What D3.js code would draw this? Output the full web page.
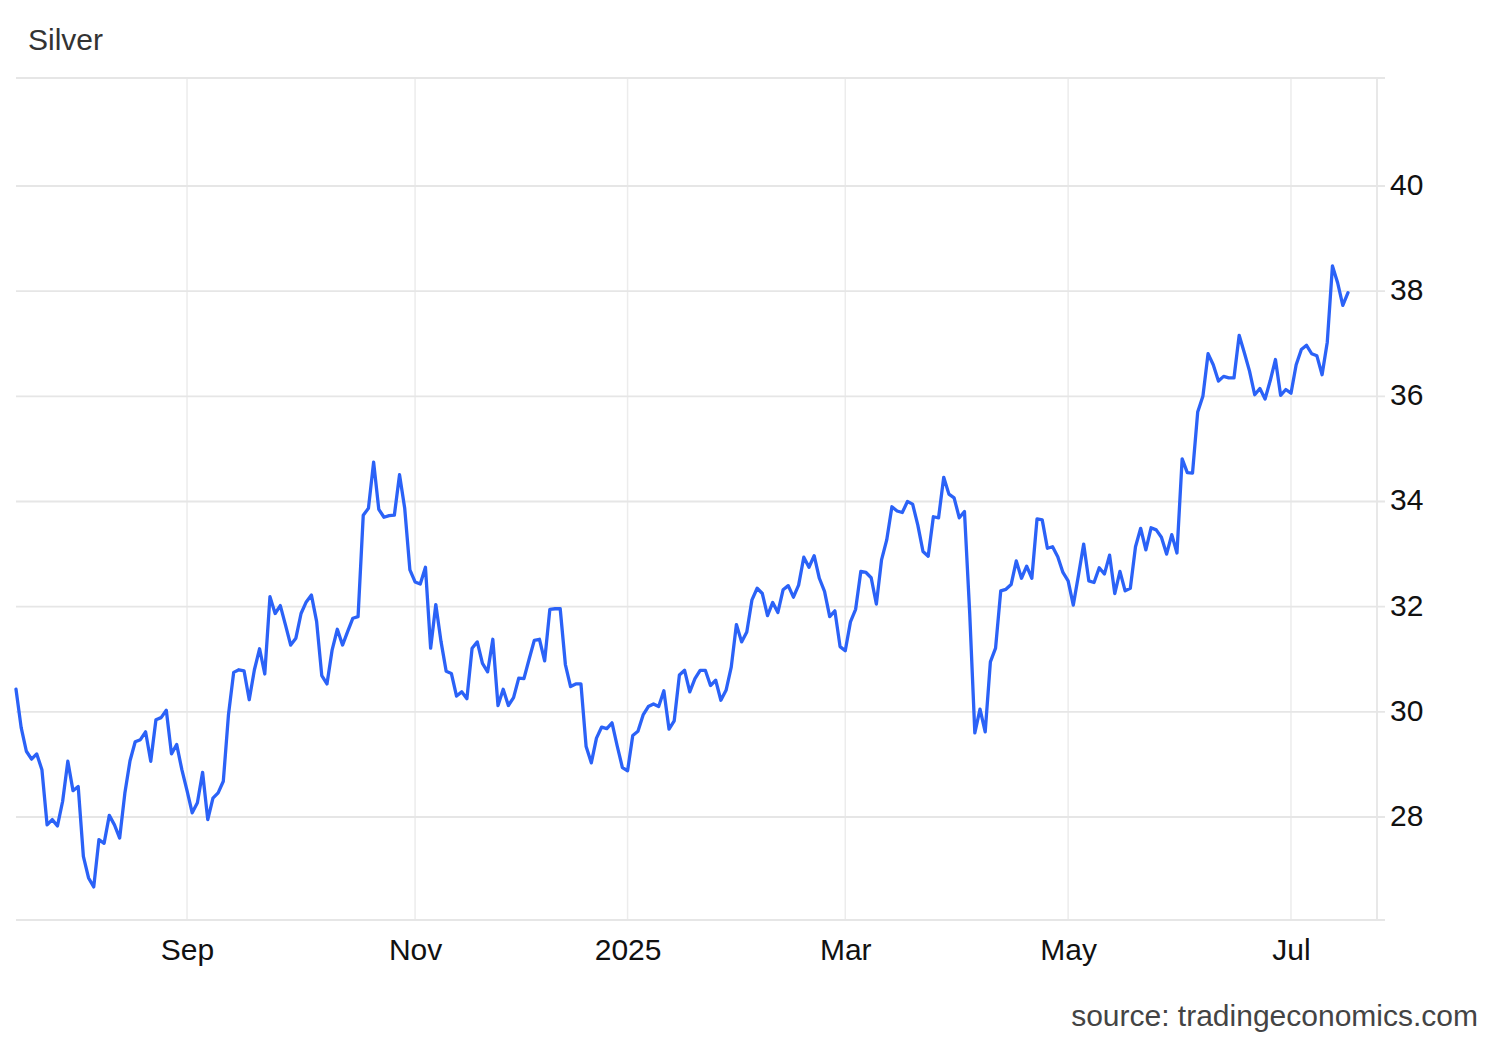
<!DOCTYPE html>
<html><head><meta charset="utf-8">
<script src="https://cdn.jsdelivr.net/npm/d3@7/dist/d3.min.js"></script>
<style>body{margin:0;background:#fff}text{font-family:"Liberation Sans",Arial,sans-serif}</style>
</head><body><svg id="c" width="1500" height="1040"></svg>
<script>
const title = "Silver";
const sourceText = "source: tradingeconomics.com";
const startDate = "2024-07-17";
const holidays = ["2024-11-28", "2024-12-25", "2025-01-01"];
const prices = [
30.43,29.7,29.25,29.1,29.2,28.9,27.85,27.95,27.83,28.3,
29.06,28.5,28.58,27.25,26.84,26.67,27.57,27.5,28.03,27.85,
27.6,28.45,29.07,29.43,29.47,29.62,29.06,29.85,29.89,30.03,
29.2,29.38,28.9,28.5,28.08,28.27,28.85,27.95,28.36,28.46,
28.68,29.95,30.75,30.8,30.78,30.23,30.8,31.2,30.72,32.19,
31.87,32.02,31.65,31.27,31.4,31.87,32.09,32.22,31.72,30.69,
30.53,31.18,31.57,31.27,31.53,31.78,31.81,33.74,33.87,34.75,
33.85,33.7,33.73,33.74,34.51,33.87,32.7,32.47,32.43,32.75,
31.21,32.04,31.34,30.77,30.73,30.3,30.38,30.25,31.21,31.33,
30.92,30.76,31.38,30.12,30.43,30.12,30.27,30.64,30.63,31.0,
31.36,31.38,30.97,31.95,31.96,31.96,30.9,30.48,30.53,30.53,
29.34,29.03,29.5,29.71,29.68,29.79,29.35,28.94,28.88,29.55,
29.63,29.94,30.1,30.15,30.1,30.4,29.67,29.83,30.7,30.79,
30.38,30.63,30.79,30.79,30.5,30.6,30.22,30.41,30.85,31.66,
31.33,31.52,32.13,32.35,32.25,31.83,32.08,31.89,32.32,32.4,
32.18,32.41,32.94,32.75,32.97,32.54,32.29,31.81,31.92,31.24,
31.16,31.71,31.95,32.67,32.65,32.55,32.05,32.89,33.27,33.9,
33.82,33.79,34.0,33.95,33.55,33.05,32.96,33.71,33.69,34.46,
34.14,34.07,33.69,33.81,31.9,29.6,30.05,29.62,30.95,31.21,
32.3,32.33,32.42,32.87,32.54,32.77,32.54,33.67,33.65,33.11,
33.14,32.95,32.65,32.49,32.03,32.6,33.19,32.49,32.46,32.74,
32.62,32.98,32.25,32.67,32.3,32.35,33.14,33.49,33.08,33.5,
33.46,33.32,33.0,33.37,33.02,34.81,34.55,34.54,35.7,36.0,
36.81,36.6,36.29,36.38,36.35,36.35,37.16,36.83,36.48,36.03,
36.15,35.95,36.3,36.7,36.02,36.13,36.06,36.6,36.89,36.97,
36.81,36.77,36.41,37.03,38.48,38.16,37.73,37.97
];
const tickMonths = ["2024-09", "2024-11", "2025-01", "2025-03", "2025-05", "2025-07"];
const tickLabels = ["Sep", "Nov", "2025", "Mar", "May", "Jul"];
const yTicks = [28, 30, 32, 34, 36, 38, 40];

// trading dates (weekdays, minus holidays)
const dates = [];
{
  let d = new Date(startDate + "T00:00:00Z");
  while (dates.length < prices.length) {
    const s = d.toISOString().slice(0, 10);
    const wd = d.getUTCDay();
    if (wd !== 0 && wd !== 6 && !holidays.includes(s)) dates.push(s);
    d = new Date(d.getTime() + 86400000);
  }
}
const data = prices.map((v, i) => ({i, date: dates[i], v}));
const tickIdx = tickMonths.map(m => dates.findIndex(s => s.startsWith(m)));

const L = 16, R = 1377, T = 78, B = 920;
const svg = d3.select("#c");
const x = d3.scaleLinear().domain([0, prices.length - 1]).range([L, 1348]);
const y = d3.scaleLinear().domain([26.041, 42.054]).range([B, T]);

const grid = svg.append("g");
grid.selectAll("line.v").data(tickIdx).enter().append("line")
  .attr("x1", d => x(d)).attr("x2", d => x(d)).attr("y1", T).attr("y2", B)
  .attr("stroke", "#ececec").attr("stroke-width", 1.5);
grid.selectAll("line.h").data(yTicks).enter().append("line")
  .attr("x1", L).attr("x2", R + 8).attr("y1", d => y(d)).attr("y2", d => y(d))
  .attr("stroke", "#e6e6e6").attr("stroke-width", 1.8);
[[L, T, R + 8, T], [L, B, R + 8, B], [R, T, R, B]].forEach(([a, b, c, e]) => {
  grid.append("line").attr("x1", a).attr("y1", b).attr("x2", c).attr("y2", e)
    .attr("stroke", "#e6e6e6").attr("stroke-width", 1.8);
});

svg.append("path").datum(data)
  .attr("fill", "none").attr("stroke", "#2b62f7").attr("stroke-width", 3.3)
  .attr("stroke-linejoin", "round").attr("stroke-linecap", "round")
  .attr("d", d3.line().x(d => x(d.i)).y(d => y(d.v)));

const ya = svg.append("g").attr("transform", `translate(${R},0)`)
  .call(d3.axisRight(y).tickValues(yTicks).tickSize(0).tickPadding(13).tickFormat(d3.format("d")));
ya.select(".domain").remove();
ya.selectAll("text").attr("font-size", 30).attr("fill", "#111")
  .attr("font-family", "Liberation Sans, Arial, sans-serif").attr("dy", "0.28em");

const xa = svg.append("g").attr("transform", `translate(0,${B})`)
  .call(d3.axisBottom(x).tickValues(tickIdx).tickSize(0).tickFormat((d, k) => tickLabels[k]));
xa.select(".domain").remove();
xa.selectAll("text").attr("font-size", 30).attr("fill", "#111")
  .attr("font-family", "Liberation Sans, Arial, sans-serif").attr("y", 40).attr("dy", 0);

svg.append("text").attr("x", 28).attr("y", 50).attr("font-size", 30).attr("fill", "#333").text(title);
svg.append("text").attr("x", 1478).attr("y", 1026).attr("text-anchor", "end")
  .attr("font-size", 30).attr("fill", "#444").text(sourceText);
</script>
</body></html>
